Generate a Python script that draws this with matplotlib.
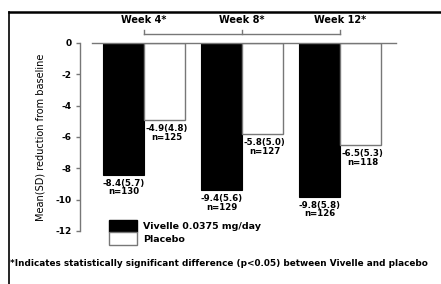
import matplotlib
matplotlib.use("Agg")
import matplotlib.pyplot as plt
import matplotlib.patches as mpatches
from matplotlib.lines import Line2D
import numpy as np

plt.rcParams['font.family'] = ['DejaVu Sans']
plt.rcParams['font.weight'] = 'bold'
plt.rcParams['axes.unicode_minus'] = False

# Data
weeks = ["Week 4*", "Week 8*", "Week 12*"]
vivelle = [-8.4, -9.4, -9.8]
placebo = [-4.9, -5.8, -6.5]
vivelle_labels = ["-8.4(5.7)\nn=130", "-9.4(5.6)\nn=129", "-9.8(5.8)\nn=126"]
placebo_labels = ["-4.9(4.8)\nn=125", "-5.8(5.0)\nn=127", "-6.5(5.3)\nn=118"]
yticks = [0, -2, -4, -6, -8, -10, -12]

W, H = 441, 284
fig = plt.figure(figsize=(W / 100, H / 100), dpi=100)
fig.patch.set_facecolor('white')

# axes: y axis at x=80px, 0 at y=43px, -12 at y=231px
ax = fig.add_axes([80 / W, 1 - 231 / H, 320 / W, 188 / H])
ax.set_xlim(-0.653, 2.612)
ax.set_ylim(-12, 0)

grey = '#777777'
x = np.arange(len(weeks))
bw = 0.418

ax.bar(x - bw / 2, vivelle, bw, color='black', edgecolor='black', linewidth=0.8)
ax.bar(x + bw / 2, placebo, bw, color='white', edgecolor=grey, linewidth=1.0)

# zero line
ax.plot([-0.531, 2.571], [0, 0], color=grey, lw=1.0, clip_on=False)

for i in range(len(weeks)):
    ax.annotate(vivelle_labels[i], xy=(x[i] - bw / 2, vivelle[i]), xytext=(0, -3),
                textcoords='offset points', ha='center', va='top',
                fontsize=6.2, linespacing=0.95)
    ax.annotate(placebo_labels[i], xy=(x[i] + bw / 2, placebo[i]), xytext=(1.5, -3),
                textcoords='offset points', ha='center', va='top',
                fontsize=6.2, linespacing=0.95)

# bracket and week labels above
ax.plot([x[0], x[-1]], [0.6, 0.6], color=grey, lw=1.0, clip_on=False)
for i, wk in enumerate(weeks):
    ax.plot([x[i], x[i]], [0.6, 0.85], color=grey, lw=1.0, clip_on=False)
    ax.text(x[i], 1.45, wk, ha='center', va='center', fontsize=7)

# axis styling
for s in ['top', 'right', 'bottom']:
    ax.spines[s].set_visible(False)
ax.spines['left'].set_color(grey)
ax.spines['left'].set_linewidth(1.0)
ax.set_xticks([])
ax.set_yticks(yticks)
ax.set_yticklabels([str(t) for t in yticks], fontsize=6.5)
ax.tick_params(axis='y', direction='out', length=3, width=1.0, color=grey, pad=3)
ax.set_ylabel("Mean(SD) reduction from baseline", fontsize=7, labelpad=7)
ax.patch.set_alpha(0)

# legend
handles = [mpatches.Patch(facecolor='black', edgecolor='black', label='Vivelle 0.0375 mg/day'),
           mpatches.Patch(facecolor='white', edgecolor=grey, label='Placebo')]
fig.legend(handles=handles, loc='upper left', bbox_to_anchor=(109 / W, 1 - 220 / H),
           frameon=False, fontsize=6.8, handlelength=3.0, handleheight=1.65,
           labelspacing=0.0, handletextpad=0.6, borderpad=0, borderaxespad=0)

# footnote
fig.text(10 / W, 1 - 263 / H,
         "*Indicates statistically significant difference (p<0.05) between Vivelle and placebo",
         ha='left', va='center', fontsize=6.4)

# frame lines
fig.add_artist(Line2D([9 / W, 1], [1 - 12 / H, 1 - 12 / H], color='black', lw=1.8))
fig.add_artist(Line2D([9 / W, 9 / W], [0, 1 - 12 / H], color='black', lw=1.2))

fig.savefig("out.png", dpi=100)
